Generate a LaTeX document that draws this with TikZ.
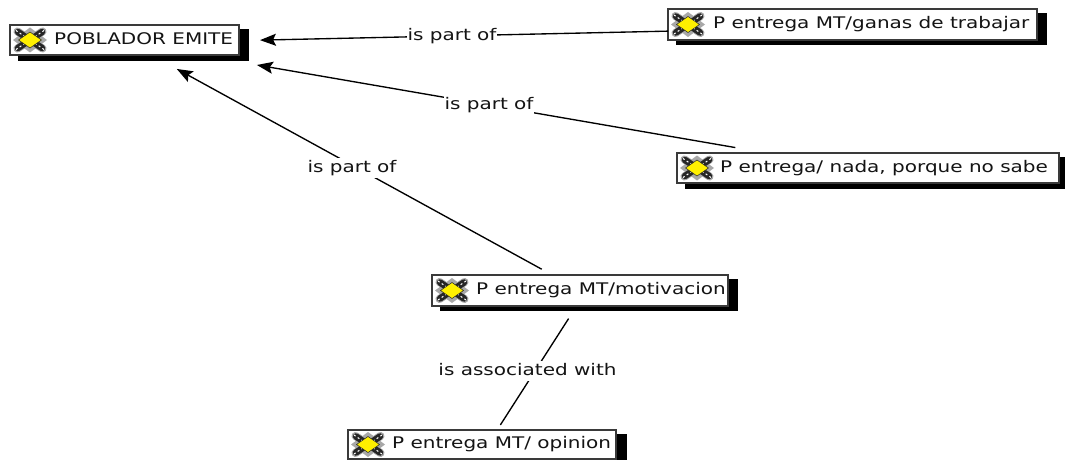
\documentclass[tikz,border=0pt]{standalone}
\usepackage{fontspec}
\setmainfont[FakeStretch=1.25]{DejaVu Sans}
\usetikzlibrary{arrows.meta}
\definecolor{boxline}{HTML}{3A3A3A}
\definecolor{armdark}{HTML}{262626}
\definecolor{armgrey}{HTML}{A8A8A8}
\definecolor{diamondyellow}{HTML}{FFF000}
\tikzset{
  shadowbox/.style={fill=black,draw=none},
  conceptbox/.style={draw=boxline,fill=white,line width=1.2pt},
  conceptarea/.style={rectangle,inner sep=0pt,outer sep=0pt},
  conceptlabel/.style={anchor=west,inner sep=0pt,font=\fontsize{16}{18}\selectfont,text=black!92},
  link/.style={draw=black,line width=1.35pt},
  linkarrow/.style={link,-{Stealth[length=16pt,width=12pt,inset=3pt]}},
  linklabel/.style={fill=white,inner xsep=0.5pt,inner ysep=2pt,text height=12pt,text depth=4pt,font=\fontsize{16}{18}\selectfont,text=black!92},
  knot/.pic={
    \draw[armgrey,line width=8pt,line cap=round] (-12.5,-8.5) -- (12.5,8.5) (-12.5,8.5) -- (12.5,-8.5);
    \fill[armgrey] (-17,0) -- (0,-12.5) -- (17,0) -- (0,12.5) -- cycle;
    \draw[armdark,line width=6.4pt,line cap=round] (-12,-8) -- (12,8) (-12,8) -- (12,-8);
    \draw[white,line width=1pt,dash pattern=on 2pt off 2.5pt] (-14,-9.5) -- (-6,-4) (14,-9.5) -- (6,-4) (-14,9.5) -- (-6,4) (14,9.5) -- (6,4);
    \fill[diamondyellow,draw=armdark,line width=.5pt] (-11.5,0) -- (0,-8) -- (11.5,0) -- (0,8) -- cycle;
  }
}
% #1 name, #2-#5 box x0,y0,x1,y1, #6-#7 shadow right,bottom, #8 text x, #9 text
\newcommand{\conceptnode}[9]{%
  \fill[shadowbox] (#2+8,#3+4) rectangle (#6,#7);
  \node[conceptarea,minimum width={(#6-#2)*1pt},minimum height={(#7-#3)*1pt}] (#1) at ({(#2+#6)/2},{(#3+#7)/2}) {};
  \draw[conceptbox] (#2,#3) rectangle (#4,#5);
  \pic at ({#2+20},{(#3+#5)/2}) {knot};
  \node[conceptlabel] (#1-text) at (#8,{(#3+#5)/2+0.5}) {\strut #9};
}
\begin{document}
\begin{tikzpicture}[x=1pt,y=-1pt]
\useasboundingbox (0,0) rectangle (1065,460);
\fill[white] (0,0) rectangle (1065,460);
\conceptnode{pob}{10}{25}{239}{55}{249}{61}{54}{POBLADOR EMITE}
\conceptnode{ganas}{668}{9}{1037}{40}{1047}{45}{713}{P entrega MT/ganas de trabajar}
\conceptnode{nada}{677}{153}{1059}{183}{1065}{189}{720}{P entrega/ nada, porque no sabe}
\conceptnode{motiv}{432}{275}{728}{306}{738}{311}{476}{P entrega MT/motivacion}
\conceptnode{opin}{348}{430}{616}{459}{627}{460}{392}{P entrega MT/ opinion}
\draw[linkarrow,shorten >=11pt] (ganas) -- (pob);
\draw[linkarrow,shorten <=32pt,shorten >=23.5pt] (nada) -- (pob);
\draw[linkarrow,shorten <=12pt,shorten >=16.5pt] (motiv) -- (pob);
\draw[link,shorten <=9pt,shorten >=6pt] (motiv) -- (opin);
\node[linklabel] (l1) at (452,37) {is part of};
\node[linklabel] (l2) at (489,105.5) {is part of};
\node[linklabel] (l3) at (352,168) {is part of};
\node[linklabel] (l4) at (527.5,371) {is associated with};
\end{tikzpicture}
\end{document}
